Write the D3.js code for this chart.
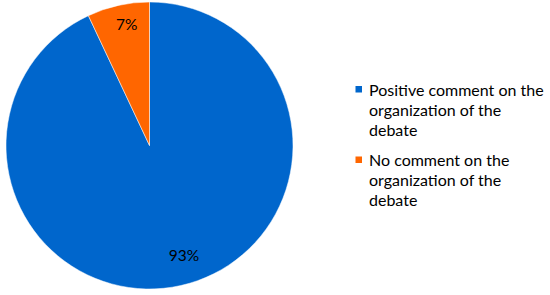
<!DOCTYPE html>
<html><head><meta charset="utf-8">
<script src="https://cdn.jsdelivr.net/npm/d3@7"></script>
<style>body{margin:0;background:#fff}svg{display:block}</style>
</head><body>
<script>
const categories = ["Positive comment on the organization of the debate", "No comment on the organization of the debate"];
const legendLines = [["Positive comment on the", "organization of the", "debate"], ["No comment on the", "organization of the", "debate"]];
const values = [93, 7];
const labels = ["93%", "7%"];
const colors = ["#0066CC", "#FF6600"];

const W = 550, H = 295;
const svg = d3.select("body").append("svg").attr("width", W).attr("height", H);
const font = "Lato, 'Open Sans', sans-serif";
const cx = 149.5, cy = 145.5, r = 143.5;
const pie = d3.pie().sort(null).value(d => d)(values);
const arc = d3.arc().innerRadius(0).outerRadius(r);
const g = svg.append("g").attr("transform", `translate(${cx},${cy})`);
g.selectAll("path").data(pie).join("path")
  .attr("d", arc).attr("fill", (d, i) => colors[i])
  .attr("stroke", "#fff").attr("stroke-width", 0.5);
// label placement: radius and angular offset from slice mid-angle
const labelRadius = [115.8, 122.6];
const labelShift = [-0.083, 0.033];
g.selectAll("text").data(pie).join("text")
  .attr("transform", (d, i) => {
    const a = (d.startAngle + d.endAngle) / 2 + labelShift[i];
    return `translate(${d3.pointRadial(a, labelRadius[i])})`;
  })
  .attr("text-anchor", "middle").attr("dy", "0.35em")
  .attr("font-family", font).attr("font-size", 15.5).attr("fill", "#000")
  .text((d, i) => labels[i]);

const leg = svg.append("g");
const legTop = [90, 160.5];
categories.forEach((c, i) => {
  leg.append("rect").attr("x", 355.5).attr("y", legTop[i] - 4).attr("width", 6.5).attr("height", 6.5).attr("fill", colors[i]);
  legendLines[i].forEach((t, j) => {
    leg.append("text").attr("x", 369).attr("y", legTop[i] + j * 20).attr("dy", "0.35em")
      .attr("font-family", font).attr("font-size", 16).attr("fill", "#000").text(t);
  });
});
</script>
</body></html>
